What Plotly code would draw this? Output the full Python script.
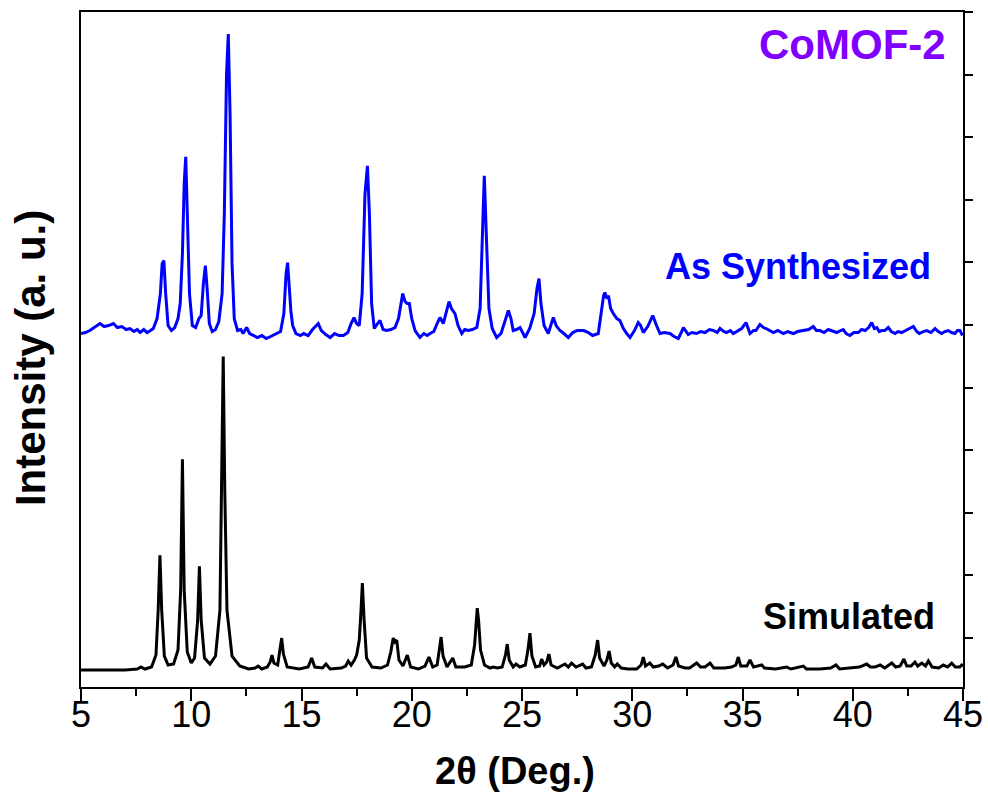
import plotly.graph_objects as go

# Simulated powder pattern: 2-theta (deg) and intensity (a.u.)
sim_2theta = [5.0, 7.0, 7.55, 7.72, 7.9, 8.2, 8.4, 8.5, 8.58, 8.66, 8.78, 8.95, 9.2, 9.4, 9.52, 9.6, 9.68, 9.82,
              10.0, 10.15, 10.29, 10.37, 10.45, 10.6, 10.85, 11.1, 11.3, 11.38, 11.45, 11.52, 11.62, 11.85,
              12.2, 12.6, 12.9, 13.03, 13.2, 13.45, 13.58, 13.66, 13.75, 13.92, 14.02, 14.1, 14.18, 14.35,
              14.9, 15.3, 15.46, 15.6, 15.95, 16.11, 16.3, 16.6, 16.8, 17.0, 17.12, 17.25, 17.4, 17.5, 17.62,
              17.7, 17.76, 17.84, 17.95, 18.2, 18.6, 18.9, 19.05, 19.16, 19.24, 19.32, 19.42, 19.6, 19.8,
              19.95, 20.3, 20.6, 20.78, 20.95, 21.15, 21.25, 21.33, 21.42, 21.6, 21.86, 22.0, 22.4, 22.7,
              22.85, 22.92, 22.97, 23.03, 23.12, 23.3, 23.55, 23.7, 23.9, 24.1, 24.25, 24.33, 24.42, 24.6,
              24.73, 24.9, 25.15, 25.27, 25.36, 25.45, 25.62, 25.8, 25.89, 26.0, 26.12, 26.22, 26.32, 26.6,
              26.95, 27.1, 27.25, 27.45, 27.75, 27.9, 28.15, 28.32, 28.43, 28.52, 28.72, 28.85, 28.95, 29.05,
              29.2, 29.32, 29.5, 29.8, 30.2, 30.4, 30.5, 30.6, 30.8, 30.95, 31.2, 31.38, 31.6, 31.85, 31.98,
              32.1, 32.4, 32.6, 32.92, 33.1, 33.3, 33.53, 33.7, 34.2, 34.5, 34.7, 34.81, 34.92, 35.2, 35.34,
              35.5, 35.87, 36.0, 36.5, 37.0, 37.2, 37.76, 37.9, 38.5, 39.0, 39.24, 39.4, 39.9, 40.3, 40.63,
              40.8, 41.0, 41.24, 41.45, 41.77, 41.95, 42.15, 42.32, 42.45, 42.65, 42.82, 42.95, 43.13, 43.3,
              43.43, 43.6, 43.9, 44.11, 44.3, 44.49, 44.65, 44.85, 44.94, 45.0]
sim_intensity = [0, 0, 1, 3, 1, 3, 15, 60, 115, 60, 14, 5, 6, 20, 80, 211, 80, 18,
                 7, 12, 50, 104, 50, 12, 6, 14, 60, 180, 314, 180, 60, 14,
                 4, 1, 2, 4, 1, 3, 8, 15, 7, 5, 18, 32, 16, 3,
                 1, 3, 12, 3, 2, 6, 1, 2, 2, 4, 9, 5, 10, 15, 30,
                 60, 87, 50, 12, 3, 2, 5, 18, 32, 28, 30, 10, 4, 15,
                 3, 1, 4, 13, 3, 5, 20, 33, 14, 3, 12, 3, 3, 5,
                 25, 50, 62, 50, 20, 5, 2, 3, 2, 3, 15, 26, 10, 3,
                 6, 3, 5, 20, 37, 14, 3, 4, 11, 5, 8, 16, 5, 2,
                 6, 3, 7, 3, 6, 2, 3, 15, 30, 12, 4, 10, 19, 7,
                 3, 6, 2, 1, 1, 5, 13, 4, 7, 3, 4, 6, 2, 5, 13,
                 4, 2, 2, 7, 3, 3, 7, 2, 2, 3, 5, 13, 4, 4, 10,
                 3, 5, 2, 1, 3, 1, 4, 1, 1, 2, 5, 1, 2, 3, 6,
                 3, 3, 5, 2, 7, 3, 4, 11, 4, 4, 8, 4, 7, 4,
                 9, 3, 2, 5, 3, 7, 3, 3, 5, 4]

# Measured pattern of the as-synthesized sample: 2-theta (deg) and intensity (a.u.)
exp_2theta = [5.0, 5.2, 5.4, 5.6, 5.86, 6.05, 6.25, 6.47, 6.65, 6.85, 7.05, 7.22, 7.4, 7.55, 7.68, 7.85, 8.0,
              8.15, 8.28, 8.45, 8.6, 8.68, 8.76, 8.84, 8.95, 9.1, 9.25, 9.4, 9.5, 9.6, 9.68, 9.75, 9.83, 9.92,
              10.05, 10.2, 10.35, 10.45, 10.55, 10.64, 10.72, 10.82, 10.95, 11.1, 11.25, 11.4, 11.5, 11.6,
              11.68, 11.76, 11.85, 11.95, 12.1, 12.25, 12.35, 12.51, 12.65, 12.8, 13.0, 13.2, 13.4, 13.6,
              13.85, 14.05, 14.2, 14.3, 14.37, 14.44, 14.52, 14.6, 14.75, 14.95, 15.1, 15.3, 15.5, 15.76,
              15.9, 16.1, 16.3, 16.5, 16.7, 16.9, 17.1, 17.25, 17.38, 17.5, 17.62, 17.75, 17.88, 17.99,
              18.08, 18.18, 18.3, 18.45, 18.56, 18.7, 18.86, 19.05, 19.24, 19.4, 19.5, 19.59, 19.7, 19.8,
              19.89, 20.0, 20.15, 20.37, 20.55, 20.7, 20.83, 21.0, 21.15, 21.28, 21.43, 21.55, 21.69, 21.8,
              21.96, 22.1, 22.27, 22.4, 22.57, 22.75, 22.95, 23.1, 23.2, 23.29, 23.38, 23.5, 23.65, 23.85,
              24.05, 24.2, 24.38, 24.5, 24.6, 24.75, 24.91, 25.05, 25.14, 25.35, 25.55, 25.68, 25.77, 25.86,
              26.0, 26.19, 26.3, 26.42, 26.55, 26.72, 26.9, 27.1, 27.3, 27.5, 27.63, 27.8, 28.01, 28.2,
              28.46, 28.6, 28.7, 28.76, 28.85, 28.92, 29.02, 29.14, 29.3, 29.44, 29.6, 29.75, 29.9, 30.1,
              30.27, 30.38, 30.5, 30.7, 30.93, 31.1, 31.26, 31.45, 31.71, 31.9, 32.09, 32.2, 32.32, 32.54,
              32.7, 32.92, 33.1, 33.3, 33.5, 33.68, 33.85, 33.98, 34.15, 34.28, 34.45, 34.58, 34.8, 34.96,
              35.16, 35.34, 35.5, 35.61, 35.79, 35.95, 36.07, 36.25, 36.4, 36.6, 36.85, 37.05, 37.3, 37.5,
              37.76, 38.0, 38.21, 38.35, 38.51, 38.7, 38.89, 39.1, 39.27, 39.45, 39.57, 39.7, 39.87, 40.05,
              40.25, 40.4, 40.56, 40.72, 40.86, 40.98, 41.09, 41.2, 41.31, 41.45, 41.61, 41.75, 41.92, 42.05,
              42.22, 42.4, 42.55, 42.75, 42.9, 43.02, 43.2, 43.35, 43.55, 43.73, 43.88, 44.03, 44.18, 44.33,
              44.48, 44.63, 44.75, 44.86, 44.98]
exp_intensity = [30, 31, 33, 36, 40, 37, 38, 40, 36, 37, 34, 35, 32, 34, 31, 34, 31,
                 33, 35, 45, 70, 100, 103, 70, 38, 33, 36, 45, 60, 110, 180, 207, 150, 70,
                 38, 36, 45, 48, 80, 98, 75, 40, 32, 34, 42, 70, 150, 290,
                 330, 250, 100, 45, 33, 34, 30, 36, 30, 28, 26, 28, 25, 27,
                 30, 32, 50, 90, 101, 75, 52, 38, 30, 28, 30, 28, 34, 40,
                 33, 29, 26, 30, 28, 28, 31, 40, 46, 40, 38, 70, 170, 198,
                 150, 60, 35, 40, 43, 34, 33, 34, 36, 45, 60, 70, 62, 60,
                 60, 45, 33, 26, 30, 28, 30, 32, 40, 46, 40, 50, 62, 55,
                 50, 38, 30, 34, 33, 34, 36, 55, 130, 188, 130, 55, 35, 26,
                 30, 40, 53, 45, 33, 34, 36, 30, 26, 35, 50, 75, 85, 60,
                 38, 30, 38, 46, 38, 33, 30, 26, 31, 33, 33, 33, 31, 28,
                 30, 50, 68, 71, 65, 68, 55, 50, 45, 43, 35, 30, 26, 33,
                 41, 38, 31, 37, 48, 38, 30, 31, 30, 27, 25, 30, 36, 29,
                 31, 30, 32, 31, 34, 33, 31, 35, 32, 31, 33, 30, 33, 35,
                 41, 30, 33, 33, 39, 36, 35, 33, 31, 33, 30, 32, 30, 32,
                 33, 34, 37, 33, 33, 31, 34, 32, 31, 33, 34, 30, 28, 31,
                 31, 34, 33, 36, 41, 35, 36, 32, 33, 33, 36, 32, 30, 32,
                 31, 33, 35, 37, 32, 30, 32, 33, 31, 35, 32, 30, 32, 33,
                 31, 30, 33, 33, 28]

# Vertical offset that stacks the measured pattern above the simulated one
exp_offset = 307

x_ticks = [5, 10, 15, 20, 25, 30, 35, 40, 45]

fig = go.Figure()
fig.add_trace(go.Scatter(x=sim_2theta, y=sim_intensity, mode="lines",
                         line=dict(color="#000000", width=3), name="Simulated"))
fig.add_trace(go.Scatter(x=exp_2theta, y=[v + exp_offset for v in exp_intensity], mode="lines",
                         line=dict(color="#0000ff", width=3), name="As Synthesized"))

sans = "Liberation Sans, Arial, sans-serif"

fig.update_layout(
    width=988, height=796,
    margin=dict(l=81, r=25, t=12, b=109, autoexpand=False),
    paper_bgcolor="white", plot_bgcolor="white",
    showlegend=False,
    xaxis=dict(range=[5, 45], tickvals=x_ticks, ticktext=[str(t) for t in x_ticks],
               ticks="outside", ticklen=12, tickwidth=2, tickcolor="black",
               ticklabelstandoff=-17, automargin=False,
               minor=dict(tickvals=[7.5, 12.5, 17.5, 22.5, 27.5, 32.5, 37.5, 42.5],
                          ticks="outside", ticklen=7, tickwidth=2, tickcolor="black"),
               showline=True, linecolor="black", linewidth=2, mirror=True,
               showgrid=False, zeroline=False,
               tickfont=dict(family=sans, size=36, color="black")),
    yaxis=dict(range=[-17, 659], side="right", tick0=32, dtick=62.7,
               ticks="outside", ticklen=8, tickwidth=2, tickcolor="black",
               showticklabels=False, automargin=False,
               showline=True, linecolor="black", linewidth=2, mirror=True,
               showgrid=False, zeroline=False),
    annotations=[
        dict(text="<b>CoMOF-2</b>", x=44.32, y=626, xref="x", yref="y", xanchor="right",
             yanchor="middle", showarrow=False, font=dict(family=sans, size=42, color="#8000ff")),
        dict(text="<b>As Synthesized</b>", x=43.64, y=404, xref="x", yref="y", xanchor="right",
             yanchor="middle", showarrow=False, font=dict(family=sans, size=36, color="#0000ff")),
        dict(text="<b>Simulated</b>", x=43.82, y=54, xref="x", yref="y", xanchor="right",
             yanchor="middle", showarrow=False, font=dict(family=sans, size=36, color="#000000")),
        dict(text="<b>Intensity (a. u.)</b>", x=-0.058, y=0.487, xref="paper", yref="paper",
             xanchor="center", yanchor="middle", textangle=-90, showarrow=False,
             font=dict(family=sans, size=42, color="black")),
        dict(text="<b>2θ (Deg.)</b>", x=0.492, y=-0.125, xref="paper", yref="paper",
             xanchor="center", yanchor="middle", showarrow=False,
             font=dict(family=sans, size=38, color="black")),
    ],
)

fig.write_html("out.html")
